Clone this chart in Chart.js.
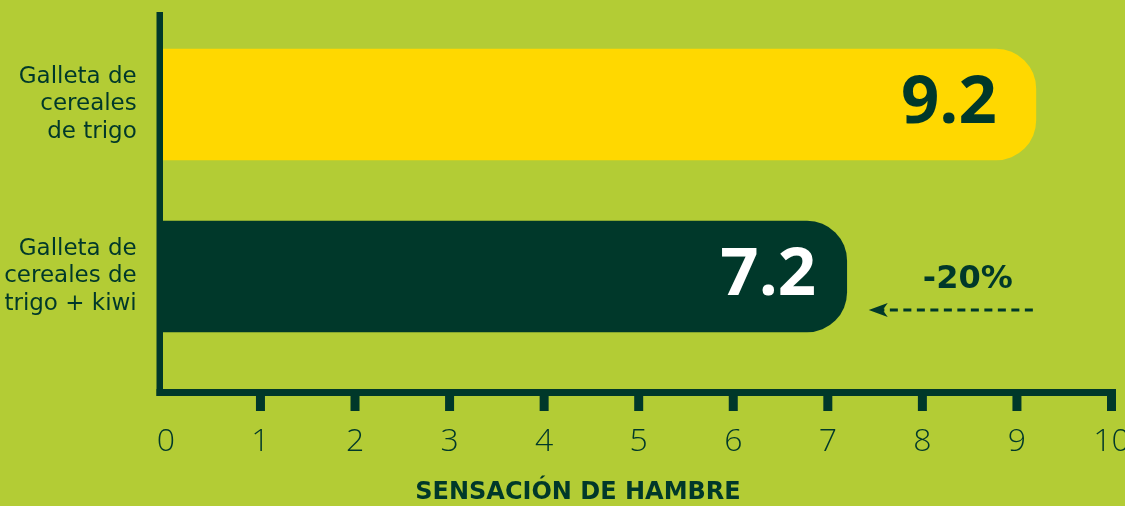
<!DOCTYPE html>
<html>
<head>
<meta charset="utf-8">
<script src="https://cdn.jsdelivr.net/npm/chart.js@4.4.0/dist/chart.umd.min.js"></script>
<style>
  html, body { margin: 0; padding: 0; background: #B3CC35; }
  #wrap { width: 1125px; height: 506px; }
</style>
</head>
<body>
<div id="wrap"><canvas id="c" width="1125" height="506"></canvas></div>
<script>
// ---- data ----
const categories = [
  ["Galleta de", "cereales", "de trigo"],
  ["Galleta de", "cereales de", "trigo + kiwi"]
];
const values = [9.2, 7.2];
const valueLabels = ["9.2", "7.2"];
const xTickValues = [0, 1, 2, 3, 4, 5, 6, 7, 8, 9, 10];
const axisTitle = "SENSACIÓN DE HAMBRE";
const changeLabel = "-20%";

// ---- styles ----
const YELLOW = "#FFD800";
const DARK = "#00382A";
const FONT = "'Open Sans', 'Noto Sans', sans-serif";
const WIDE = "'DejaVu Sans', 'Open Sans', sans-serif";

const decorPlugin = {
  id: "decor",
  afterDatasetsDraw(chart) {
    const ctx = chart.ctx;
    const xs = chart.scales.x;
    const ys = chart.scales.y;
    const area = chart.chartArea;
    ctx.save();
    ctx.fillStyle = DARK;
    // y axis line
    ctx.fillRect(area.left - 3.25, 12, 6.5, area.bottom + 3.5 - 12);
    // x axis line
    ctx.fillRect(area.left - 3.25, area.bottom - 3.5, xs.getPixelForValue(10) + 4.5 - (area.left - 3.25), 7);
    // tick marks
    xTickValues.forEach(v => {
      if (v === 0) return;
      const px = xs.getPixelForValue(v);
      ctx.fillRect(px - 4.5, area.bottom + 3.5, 9, 15);
    });

    // value labels inside bars
    const meta = chart.getDatasetMeta(0);
    meta.data.forEach((bar, i) => {
      ctx.font = "bold 67px " + FONT;
      ctx.textAlign = "right";
      ctx.textBaseline = "middle";
      ctx.fillStyle = i === 0 ? DARK : "#FFFFFF";
      ctx.fillText(valueLabels[i], xs.getPixelForValue(values[i] * 0.955), bar.y - 1);
    });

    // change annotation
    const x1 = xs.getPixelForValue(values[1]);
    const x0 = xs.getPixelForValue(values[0]);
    const yb = ys.getPixelForValue(1);
    const tipX = x1 + 22;
    const tailX = x0 - 3;
    const ay = yb + 33.5;
    ctx.fillStyle = DARK;
    ctx.font = "bold 32px " + WIDE;
    ctx.textAlign = "center";
    ctx.textBaseline = "middle";
    ctx.fillText(changeLabel, (tipX + tailX) / 2 + 17, yb + 3);

    ctx.strokeStyle = DARK;
    ctx.lineWidth = 3;
    ctx.setLineDash([8, 5.5]);
    ctx.beginPath();
    ctx.moveTo(tailX, ay);
    ctx.lineTo(tipX + 8, ay);
    ctx.stroke();
    ctx.setLineDash([]);
    ctx.beginPath();
    ctx.moveTo(tipX, ay);
    ctx.lineTo(tipX + 19, ay - 7);
    ctx.lineTo(tipX + 14, ay);
    ctx.lineTo(tipX + 19, ay + 7);
    ctx.closePath();
    ctx.fill();

    // axis title
    ctx.font = "bold 24px " + WIDE;
    ctx.textAlign = "center";
    ctx.textBaseline = "middle";
    ctx.fillText(axisTitle, 578, 493);
    ctx.restore();
  }
};

new Chart(document.getElementById("c"), {
  type: "bar",
  data: {
    datasets: [{
      data: values.map((v, i) => ({ x: v, y: i })),
      backgroundColor: [YELLOW, DARK],
      borderWidth: 0,
      borderRadius: 40,
      borderSkipped: "start",
      barThickness: 111,
      base: -0.03
    }]
  },
  options: {
    indexAxis: "y",
    responsive: false,
    animation: false,
    devicePixelRatio: 1,
    layout: { padding: { top: 12, left: 0, right: 13.5, bottom: 0 } },
    plugins: { legend: { display: false }, tooltip: { enabled: false } },
    scales: {
      x: {
        type: "linear",
        position: "bottom",
        min: -0.065,
        max: 10,
        afterBuildTicks: s => { s.ticks = xTickValues.map(v => ({ value: v })); },
        afterFit: s => { s.height = 113.5; s.paddingLeft = 0; s.paddingRight = 0; },
        grid: { display: false, drawTicks: false },
        border: { display: false },
        ticks: {
          color: DARK,
          padding: 30,
          font: { family: FONT, size: 32, weight: "300" },
          maxRotation: 0,
          autoSkip: false
        }
      },
      y: {
        type: "linear",
        position: "left",
        reverse: true,
        offset: false,
        min: -0.5378,
        max: 1.6744,
        afterBuildTicks: s => { s.ticks = categories.map((c, i) => ({ value: i })); },
        afterFit: s => { s.width = 159.75; s.paddingTop = 0; s.paddingBottom = 0; },
        grid: { display: false, drawTicks: false },
        border: { display: false },
        ticks: {
          color: DARK,
          padding: 23,
          crossAlign: "near",
          font: { family: WIDE, size: 23, weight: "normal", lineHeight: "27.5px" },
          callback: (v) => categories[v] || ""
        }
      }
    }
  },
  plugins: [decorPlugin]
});
</script>
</body>
</html>
